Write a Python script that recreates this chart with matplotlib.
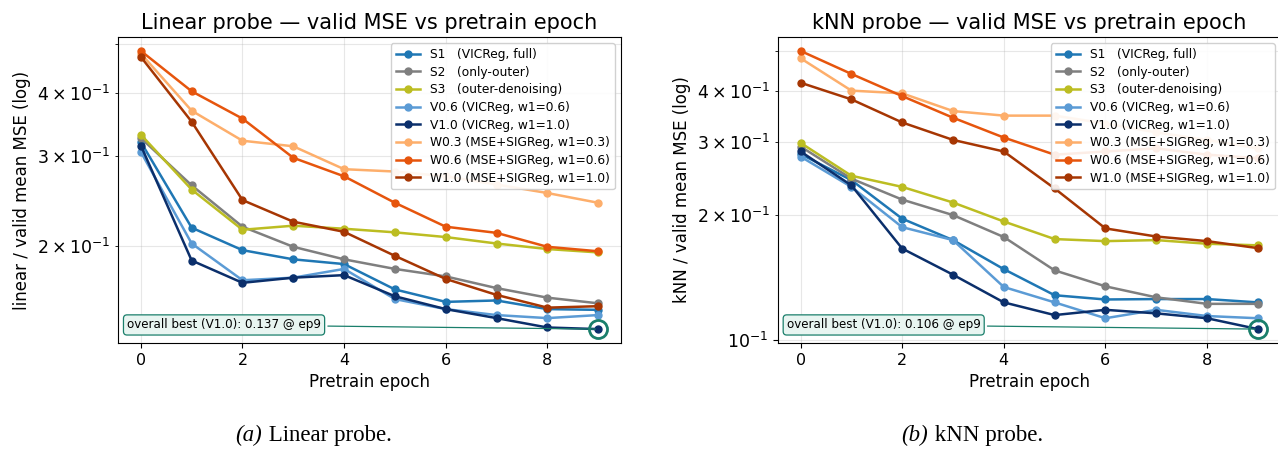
import matplotlib
matplotlib.use('Agg')
import matplotlib.pyplot as plt

# pretrain epochs
epochs = list(range(10))

series_names = ['S1   (VICReg, full)', 'S2   (only-outer)', 'S3   (outer-denoising)',
                'V0.6 (VICReg, w1=0.6)', 'V1.0 (VICReg, w1=1.0)',
                'W0.3 (MSE+SIGReg, w1=0.3)', 'W0.6 (MSE+SIGReg, w1=0.6)',
                'W1.0 (MSE+SIGReg, w1=1.0)']
series_colors = ['#1f77b4', '#7f7f7f', '#bcbd22', '#5b9bd5', '#0b2f6b',
                 '#fdae6b', '#e6550d', '#a63603']

# linear probe valid MSE
lin_s1 = [0.320, 0.217, 0.196, 0.188, 0.184, 0.164, 0.155, 0.156, 0.150, 0.1495]
lin_s2 = [0.326, 0.263, 0.218, 0.199, 0.188, 0.180, 0.174, 0.165, 0.158, 0.154]
lin_s3 = [0.331, 0.258, 0.215, 0.219, 0.216, 0.2125, 0.208, 0.202, 0.197, 0.194]
lin_v06 = [0.306, 0.202, 0.171, 0.173, 0.180, 0.157, 0.150, 0.146, 0.144, 0.146]
lin_v10 = [0.315, 0.187, 0.169, 0.173, 0.175, 0.159, 0.150, 0.144, 0.138, 0.137]
lin_w03 = [0.478, 0.369, 0.322, 0.314, 0.283, 0.280, 0.274, 0.264, 0.254, 0.243]
lin_w06 = [0.484, 0.403, 0.356, 0.298, 0.274, 0.243, 0.218, 0.212, 0.199, 0.195]
lin_w10 = [0.471, 0.351, 0.246, 0.223, 0.213, 0.191, 0.172, 0.160, 0.151, 0.152]

# kNN probe valid MSE
knn_s1 = [0.281, 0.243, 0.196, 0.174, 0.148, 0.128, 0.125, 0.1253, 0.1253, 0.123]
knn_s2 = [0.293, 0.245, 0.218, 0.200, 0.177, 0.147, 0.1345, 0.1265, 0.122, 0.122]
knn_s3 = [0.299, 0.249, 0.234, 0.2145, 0.193, 0.175, 0.173, 0.174, 0.1705, 0.169]
knn_v06 = [0.277, 0.234, 0.187, 0.174, 0.134, 0.123, 0.1126, 0.118, 0.114, 0.1126]
knn_v10 = [0.285, 0.236, 0.166, 0.1435, 0.123, 0.1146, 0.118, 0.1157, 0.1126, 0.106]
knn_w03 = [0.479, 0.400, 0.394, 0.357, 0.348, 0.348, 0.333, 0.317, 0.304, 0.290]
knn_w06 = [0.499, 0.439, 0.388, 0.344, 0.308, 0.280, 0.285, 0.290, 0.280, 0.2746]
knn_w10 = [0.418, 0.381, 0.335, 0.304, 0.285, 0.232, 0.1857, 0.1775, 0.173, 0.1664]

lin_all = [lin_s1, lin_s2, lin_s3, lin_v06, lin_v10, lin_w03, lin_w06, lin_w10]
knn_all = [knn_s1, knn_s2, knn_s3, knn_v06, knn_v10, knn_w03, knn_w06, knn_w10]

best_lin = ('V1.0', 9, 0.137)
best_knn = ('V1.0', 9, 0.106)

TEAL = '#1a7f6b'
W, H = 1278, 451

fig = plt.figure(figsize=(W / 100, H / 100), dpi=100)
ax1 = fig.add_axes([118 / W, 108 / H, 503 / W, 306 / H])
ax2 = fig.add_axes([777.7 / W, 108 / H, 503 / W, 306 / H])


def draw_panel(ax, data, best, title, ylabel):
    for vals, name, col in zip(data, series_names, series_colors):
        ax.plot(epochs, vals, marker='o', ms=5, lw=1.8, color=col, label=name)
    ax.set_yscale('log')
    ax.set_title(title, fontsize=15)
    ax.set_xlabel('Pretrain epoch', fontsize=12)
    ax.set_ylabel(ylabel, fontsize=12)
    ax.tick_params(axis='x', labelsize=11.5)
    ax.tick_params(axis='y', which='both', labelsize=12.5)
    ax.grid(True, which='both', alpha=0.3)
    ax.legend(loc='upper right', fontsize=8.8, framealpha=0.9, labelspacing=0.38)

    # highlight overall best point
    name, ep, val = best
    ax.plot([ep], [val], marker='o', ms=13, mfc='none', mec=TEAL, mew=2, zorder=5)
    ax.annotate(f'overall best ({name}): {val:.3f} @ ep{ep}', xy=(ep, val),
                xytext=(0.018, 0.059), textcoords='axes fraction',
                ha='left', va='center', fontsize=8.6,
                bbox=dict(boxstyle='round,pad=0.3', fc='#e8f5f1', ec=TEAL, lw=0.9),
                arrowprops=dict(arrowstyle='-', color=TEAL, lw=0.9))


draw_panel(ax1, lin_all, best_lin, 'Linear probe — valid MSE vs pretrain epoch',
           'linear / valid mean MSE (log)')
draw_panel(ax2, knn_all, best_knn, 'kNN probe — valid MSE vs pretrain epoch',
           'kNN / valid mean MSE (log)')

# sub-figure captions
serif = ['Liberation Serif', 'DejaVu Serif']
cap_y = 1 - 435 / H
fig.text(262 / W, cap_y, '(a)', style='italic', family=serif, fontsize=16.5,
         ha='right', va='center')
fig.text(263 / W, cap_y, ' Linear probe.', family=serif, fontsize=16.5,
         ha='left', va='center')
fig.text(928 / W, cap_y, '(b)', style='italic', family=serif, fontsize=16.5,
         ha='right', va='center')
fig.text(929 / W, cap_y, ' kNN probe.', family=serif, fontsize=16.5,
         ha='left', va='center')

fig.savefig('out.png', dpi=100)
